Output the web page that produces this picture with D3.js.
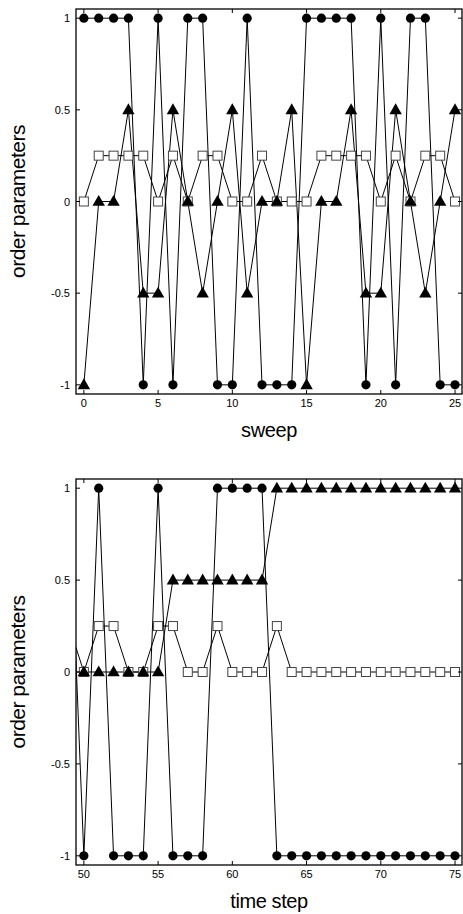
<!DOCTYPE html>
<html>
<head>
<meta charset="utf-8">
<script src="https://cdn.jsdelivr.net/npm/d3@7"></script>
<style>
  body { margin: 0; background: #fff; }
  svg { display: block; }
  text { font-family: "Liberation Sans", Arial, Helvetica, sans-serif; fill: #000; }
</style>
</head>
<body>
<svg id="chart" width="463" height="914"></svg>
<script>
// top panel: sweeps 0..25
const sweeps = d3.range(0, 26)
const sweepCircles = [1, 1, 1, 1, -1, 1, -1, 1, 1, -1, -1, 1, -1, -1, -1, 1, 1, 1, 1, -1, 1, -1, 1, 1, -1, -1]
const sweepTriangles = [-1, 0, 0, 0.5, -0.5, -0.5, 0.5, 0, -0.5, 0, 0.5, -0.5, 0, 0, 0.5, -1, 0, 0, 0.5, -0.5, -0.5, 0.5, 0, -0.5, 0, 0.5]
const sweepSquares = [0, 0.25, 0.25, 0.25, 0.25, 0, 0.25, 0, 0.25, 0.25, 0, 0, 0.25, 0, 0, 0, 0.25, 0.25, 0.25, 0.25, 0, 0.25, 0, 0.25, 0.25, 0]

// bottom panel: time steps 49..75 (49 is just outside the frame)
const steps = d3.range(49, 76)
const stepCircles = [1, -1, 1, -1, -1, -1, 1, -1, -1, -1, 1, 1, 1, 1, -1, -1, -1, -1, -1, -1, -1, -1, -1, -1, -1, -1, -1]
const stepTriangles = [0, 0, 0, 0, 0, 0, 0, 0.5, 0.5, 0.5, 0.5, 0.5, 0.5, 0.5, 1, 1, 1, 1, 1, 1, 1, 1, 1, 1, 1, 1, 1]
const stepSquares = [0.25, 0, 0.25, 0.25, 0, 0, 0.25, 0.25, 0, 0, 0.25, 0, 0, 0, 0.25, 0, 0, 0, 0, 0, 0, 0, 0, 0, 0, 0, 0]

const yTicks = [-1, -0.5, 0, 0.5, 1]
const yTickLabels = ['-1', '-0.5', '0', '0.5', '1']
const sweepTicks = [0, 5, 10, 15, 20, 25]
const stepTicks = [50, 55, 60, 65, 70, 75]

const svg = d3.select('#chart')

function drawPanel (cfg) {
  const { id, top, bottom, xs, circles, triangles, squares, xDomain, xTicks, xTitle, titleY } = cfg
  const left = 76
  const right = 462

  const x = d3.scaleLinear().domain(xDomain).range([left, right])
  const y = d3.scaleLinear().domain([-1.05, 1.05]).range([bottom, top])

  const g = svg.append('g')

  g.append('clipPath')
    .attr('id', `clip${id}`)
    .append('rect')
    .attr('x', left)
    .attr('y', top)
    .attr('width', right - left)
    .attr('height', bottom - top)

  const plot = g.append('g').attr('clip-path', `url(#clip${id})`)

  const line = d3.line().x(d => x(d[0])).y(d => y(d[1]))
  const series = [squares, triangles, circles].map(vals => xs.map((v, i) => [v, vals[i]]))

  series.forEach(pts => {
    plot.append('path')
      .attr('d', line(pts))
      .attr('fill', 'none')
      .attr('stroke', '#000')
      .attr('stroke-width', 1)
  })

  // markers
  plot.selectAll('rect.sq')
    .data(series[0])
    .join('rect')
    .classed('sq', true)
    .attr('x', d => x(d[0]) - 4.5)
    .attr('y', d => y(d[1]) - 4.5)
    .attr('width', 9)
    .attr('height', 9)
    .attr('fill', '#fff')
    .attr('stroke', '#444')
    .attr('stroke-width', 1)

  plot.selectAll('path.tri')
    .data(series[1])
    .join('path')
    .classed('tri', true)
    .attr('d', d => {
      const cx = x(d[0])
      const cy = y(d[1])
      return `M${cx},${cy - 6.5}L${cx + 6.2},${cy + 4.3}L${cx - 6.2},${cy + 4.3}Z`
    })
    .attr('fill', '#000')

  plot.selectAll('circle.ci')
    .data(series[2])
    .join('circle')
    .classed('ci', true)
    .attr('cx', d => x(d[0]))
    .attr('cy', d => y(d[1]))
    .attr('r', 4.6)
    .attr('fill', '#000')

  // inside ticks on all four sides
  const TICK = 4
  const ticks = g.append('g').attr('stroke', '#000').attr('stroke-width', 1)
  xTicks.forEach(t => {
    ticks.append('line').attr('x1', x(t)).attr('x2', x(t)).attr('y1', bottom).attr('y2', bottom - TICK)
    ticks.append('line').attr('x1', x(t)).attr('x2', x(t)).attr('y1', top).attr('y2', top + TICK)
  })
  yTicks.forEach(t => {
    ticks.append('line').attr('x1', left).attr('x2', left + TICK).attr('y1', y(t)).attr('y2', y(t))
    ticks.append('line').attr('x1', right).attr('x2', right - TICK).attr('y1', y(t)).attr('y2', y(t))
  })

  g.append('rect')
    .attr('x', left)
    .attr('y', top)
    .attr('width', right - left)
    .attr('height', bottom - top)
    .attr('fill', 'none')
    .attr('stroke', '#000')
    .attr('stroke-width', 1.3)

  g.selectAll('text.ylab')
    .data(yTicks)
    .join('text')
    .classed('ylab', true)
    .attr('x', left - 6)
    .attr('y', d => y(d) + 4)
    .attr('text-anchor', 'end')
    .attr('font-size', 11)
    .text((d, i) => yTickLabels[i])

  g.selectAll('text.xlab')
    .data(xTicks)
    .join('text')
    .classed('xlab', true)
    .attr('x', d => x(d))
    .attr('y', bottom + 13)
    .attr('text-anchor', 'middle')
    .attr('font-size', 11)
    .text(d => d)

  g.append('text')
    .attr('x', (left + right) / 2)
    .attr('y', titleY)
    .attr('text-anchor', 'middle')
    .attr('font-size', 20)
    .attr('letter-spacing', -0.4)
    .text(xTitle)

  g.append('text')
    .attr('transform', `translate(25,${(top + bottom) / 2}) rotate(-90)`)
    .attr('text-anchor', 'middle')
    .attr('font-size', 21)
    .attr('letter-spacing', -0.5)
    .text('order parameters')
}

drawPanel({
  id: 'top',
  top: 9,
  bottom: 394,
  xs: sweeps,
  circles: sweepCircles,
  triangles: sweepTriangles,
  squares: sweepSquares,
  xDomain: [-0.53, 25.47],
  xTicks: sweepTicks,
  xTitle: 'sweep',
  titleY: 437
})

drawPanel({
  id: 'bottom',
  top: 479,
  bottom: 865,
  xs: steps,
  circles: stepCircles,
  triangles: stepTriangles,
  squares: stepSquares,
  xDomain: [49.47, 75.47],
  xTicks: stepTicks,
  xTitle: 'time step',
  titleY: 908
})
</script>
</body>
</html>
